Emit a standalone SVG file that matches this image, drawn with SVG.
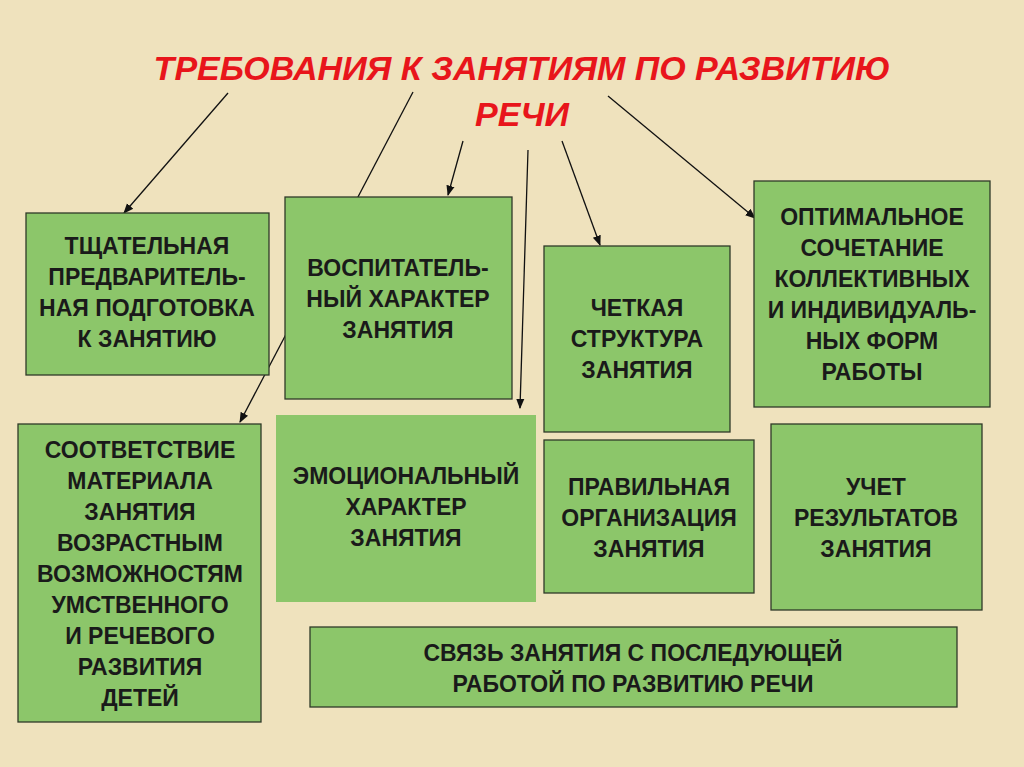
<svg xmlns="http://www.w3.org/2000/svg" width="1024" height="767" viewBox="0 0 1024 767">
<style>
.b{fill:#8cc66a;stroke:#2f3a28;stroke-width:1.3}
.t{font-family:"Liberation Sans Narrow","Liberation Sans",sans-serif;font-weight:bold;font-size:23px;fill:#1a1a1a;text-anchor:middle}
.h{font-family:"Liberation Sans",sans-serif;font-weight:bold;font-style:italic;font-size:34px;fill:#e8151b;text-anchor:middle}
.c{stroke:#111;stroke-width:1.3;fill:none;marker-end:url(#a)}
</style>
<defs><marker id="a" viewBox="0 0 10 10" refX="9" refY="5" markerWidth="8" markerHeight="8" orient="auto"><path d="M0,1 L10,5 L0,9 z" fill="#111"/></marker></defs>
<rect width="1024" height="767" fill="#efe2bd"/>
<text class="h" x="522" y="80">ТРЕБОВАНИЯ К ЗАНЯТИЯМ ПО РАЗВИТИЮ</text>
<text class="h" x="522" y="126">РЕЧИ</text>
<g id="connectors">
<path class="c" d="M228,93 L124,213"/>
<path class="c" d="M413,92 L240,422"/>
<path class="c" d="M463,141 L448,195"/>
<path class="c" d="M528,150 L520,408"/>
<path class="c" d="M562,141 L600,245"/>
<path class="c" d="M608,96 L755,218"/>
</g>
<g id="n1"><rect class="b" x="26" y="213" width="243" height="162"/><text class="t" x="147" y="254">ТЩАТЕЛЬНАЯ</text><text class="t" x="147" y="285">ПРЕДВАРИТЕЛЬ-</text><text class="t" x="147" y="316">НАЯ ПОДГОТОВКА</text><text class="t" x="147" y="347">К ЗАНЯТИЮ</text></g>
<g id="n2"><rect class="b" x="285" y="197" width="227" height="202"/><text class="t" x="398" y="276">ВОСПИТАТЕЛЬ-</text><text class="t" x="398" y="307">НЫЙ ХАРАКТЕР</text><text class="t" x="398" y="338">ЗАНЯТИЯ</text></g>
<g id="n3"><rect class="b" x="544" y="246" width="186" height="186"/><text class="t" x="637" y="316">ЧЕТКАЯ</text><text class="t" x="637" y="347">СТРУКТУРА</text><text class="t" x="637" y="378">ЗАНЯТИЯ</text></g>
<g id="n4"><rect class="b" x="754" y="181" width="236" height="226"/><text class="t" x="872" y="225">ОПТИМАЛЬНОЕ</text><text class="t" x="872" y="256">СОЧЕТАНИЕ</text><text class="t" x="872" y="287">КОЛЛЕКТИВНЫХ</text><text class="t" x="872" y="318">И ИНДИВИДУАЛЬ-</text><text class="t" x="872" y="349">НЫХ ФОРМ</text><text class="t" x="872" y="380">РАБОТЫ</text></g>
<g id="n5"><rect class="b" x="18" y="424" width="243" height="298"/><text class="t" x="140" y="458">СООТВЕТСТВИЕ</text><text class="t" x="140" y="489">МАТЕРИАЛА</text><text class="t" x="140" y="520">ЗАНЯТИЯ</text><text class="t" x="140" y="551">ВОЗРАСТНЫМ</text><text class="t" x="140" y="582">ВОЗМОЖНОСТЯМ</text><text class="t" x="140" y="613">УМСТВЕННОГО</text><text class="t" x="140" y="644">И РЕЧЕВОГО</text><text class="t" x="140" y="675">РАЗВИТИЯ</text><text class="t" x="140" y="706">ДЕТЕЙ</text></g>
<g id="n6"><rect x="276" y="415" width="260" height="187" fill="#8cc66a"/><text class="t" x="406" y="484">ЭМОЦИОНАЛЬНЫЙ</text><text class="t" x="406" y="515">ХАРАКТЕР</text><text class="t" x="406" y="546">ЗАНЯТИЯ</text></g>
<g id="n7"><rect class="b" x="544" y="440" width="210" height="153"/><text class="t" x="649" y="495">ПРАВИЛЬНАЯ</text><text class="t" x="649" y="526">ОРГАНИЗАЦИЯ</text><text class="t" x="649" y="557">ЗАНЯТИЯ</text></g>
<g id="n8"><rect class="b" x="771" y="424" width="211" height="186"/><text class="t" x="876" y="495">УЧЕТ</text><text class="t" x="876" y="526">РЕЗУЛЬТАТОВ</text><text class="t" x="876" y="557">ЗАНЯТИЯ</text></g>
<g id="n9"><rect class="b" x="310" y="627" width="647" height="80"/><text class="t" x="633" y="661">СВЯЗЬ ЗАНЯТИЯ С ПОСЛЕДУЮЩЕЙ</text><text class="t" x="633" y="692">РАБОТОЙ ПО РАЗВИТИЮ РЕЧИ</text></g>
</svg>
